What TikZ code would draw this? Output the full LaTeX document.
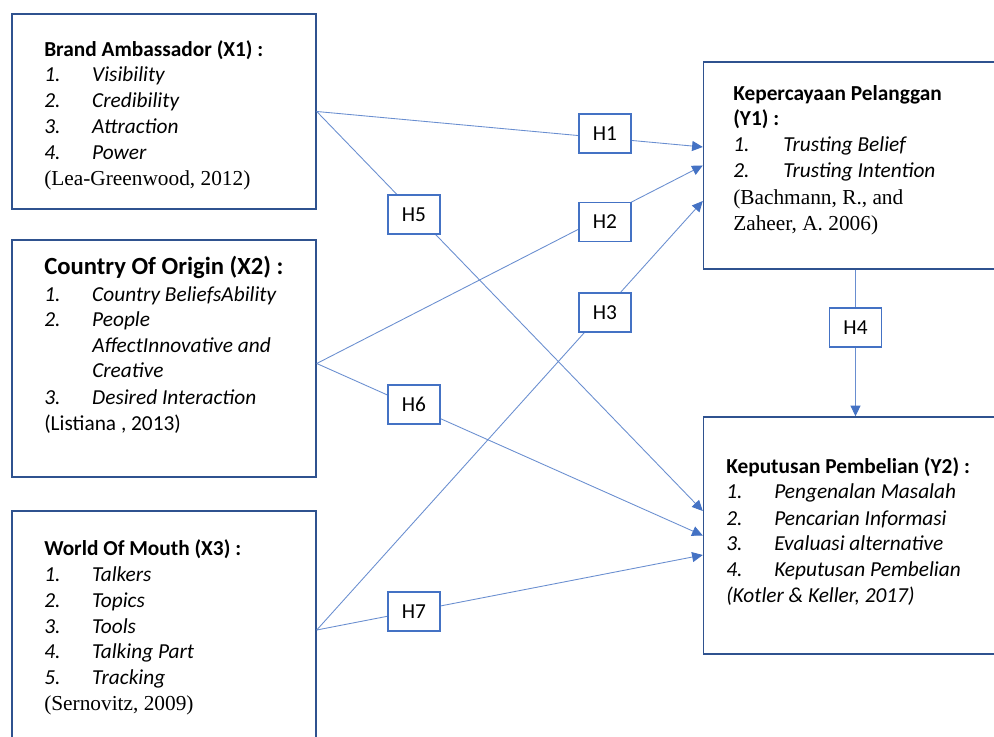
\documentclass[tikz,border=0pt]{standalone}
\usepackage{fontspec}
\setmainfont{Carlito}
\newfontfamily\tnrfont{Liberation Serif}
\usetikzlibrary{arrows.meta,calc}
\definecolor{boxblue}{HTML}{2F528F}
\definecolor{lineblue}{HTML}{4472C4}
\colorlet{connblue}{lineblue!80}
\newcommand\numit[3][36pt]{\makebox[#1][l]{\itshape #2}\textit{#3}}
\begin{document}
\begin{tikzpicture}[x=0.75pt,y=-0.75pt,
  bigbox/.style={draw=boxblue,line width=1.1pt,minimum width=228pt,inner sep=0pt},
  hbox/.style={draw=lineblue,line width=1.1pt,fill=white,minimum width=39pt,minimum height=29.25pt,inner sep=0pt,font=\fontsize{16}{19}\selectfont},
  conn/.style={draw=connblue,line width=0.65pt},
  arr/.style={conn,-{Triangle[length=8pt,width=7.5pt,color=lineblue]}},
  txt/.style={anchor=base west,inner sep=0pt,font=\fontsize{16}{19}\selectfont},
  ttl/.style={txt,font=\fontsize{16}{19}\selectfont\bfseries},
  bigttl/.style={txt,font=\fontsize{18.5}{22}\selectfont\bfseries},
  cite/.style={txt,font=\fontsize{16}{19}\selectfont\tnrfont}]
\useasboundingbox (0,0) rectangle (994,737);
\clip (0,0) rectangle (994,737);
\fill[white] (0,0) rectangle (994,737);

% main boxes
\node[bigbox,minimum height=146.25pt] (x1) at (164,111.5) {};
\node[bigbox,minimum height=177.75pt] (x2) at (164,358.5) {};
\node[bigbox,minimum height=178.5pt] (x3) at (164,630) {};
\node[bigbox,minimum height=155.25pt] (y1) at (855.5,165.5) {};
\node[bigbox,minimum height=177.75pt] (y2) at (855.5,535.5) {};

% connectors
\draw[arr] (x1.east) -- ($(y1.west)+(0,-18.5)$);
\draw[arr] (x1.east) -- ($(y2.west)+(0,-24.5)$);
\draw[arr] ($(x2.east)+(0,5)$) -- (y1.west);
\draw[arr] ($(x2.east)+(0,5)$) -- (y2.west);
\draw[arr] (x3.east) -- ($(y1.west)+(0,35.5)$);
\draw[arr] (x3.east) -- ($(y2.west)+(0,19.5)$);
\draw[arr] (y1.south) -- (y2.north);

% hypothesis labels
\node[hbox] (h1) at (605,133.5) {H1};
\node[hbox] (h2) at (605,222) {H2};
\node[hbox] (h3) at (605,312.5) {H3};
\node[hbox] (h4) at (855.5,327.5) {H4};
\node[hbox] (h5) at (414,214.5) {H5};
\node[hbox] (h6) at (414,404.5) {H6};
\node[hbox] (h7) at (414,611.5) {H7};

% X1 text
\node[ttl] (x1t0) at (44,57) {Brand Ambassador (X1) :};
\node[txt] (x1t1) at (44,82) {\numit{1.}{Visibility}};
\node[txt] (x1t2) at (44,108) {\numit{2.}{Credibility}};
\node[txt] (x1t3) at (44,134) {\numit{3.}{Attraction}};
\node[txt] (x1t4) at (44,160) {\numit{4.}{Power}};
\node[cite] (x1t5) at (44,186) {(Lea-Greenwood, 2012)};

% X2 text
\node[bigttl] (x2t0) at (44,275) {Country Of Origin (X2) :};
\node[txt] (x2t1) at (44,302) {\numit{1.}{Country BeliefsAbility}};
\node[txt] (x2t2) at (44,327) {\numit{2.}{People}};
\node[txt] (x2t3) at (92,352) {\textit{AffectInnovative and}};
\node[txt] (x2t4) at (92,377) {\textit{Creative}};
\node[txt] (x2t5) at (44,404) {\numit{3.}{Desired Interaction}};
\node[txt] (x2t6) at (44,430) {(Listiana , 2013)};

% X3 text
\node[ttl] (x3t0) at (44,555) {World Of Mouth (X3) :};
\node[txt] (x3t1) at (44,581) {\numit{1.}{Talkers}};
\node[txt] (x3t2) at (44,607) {\numit{2.}{Topics}};
\node[txt] (x3t3) at (44,633) {\numit{3.}{Tools}};
\node[txt] (x3t4) at (44,658) {\numit{4.}{Talking Part}};
\node[txt] (x3t5) at (44,684) {\numit{5.}{Tracking}};
\node[cite] (x3t6) at (44,710) {(Sernovitz, 2009)};

% Y1 text
\node[ttl] (y1t0) at (733,101) {Kepercayaan Pelanggan};
\node[ttl] (y1t1) at (733,126) {(Y1) :};
\node[txt] (y1t2) at (733,152) {\numit[37.5pt]{1.}{Trusting Belief}};
\node[txt] (y1t3) at (733,178) {\numit[37.5pt]{2.}{Trusting Intention}};
\node[cite] (y1t4) at (733,205) {(Bachmann, R., and};
\node[cite] (y1t5) at (733,231) {Zaheer, A. 2006)};

% Y2 text
\node[ttl] (y2t0) at (726,473) {Keputusan Pembelian (Y2) :};
\node[txt] (y2t1) at (726,498) {\numit{1.}{Pengenalan Masalah}};
\node[txt] (y2t2) at (726,525) {\numit{2.}{Pencarian Informasi}};
\node[txt] (y2t3) at (726,550) {\numit{3.}{Evaluasi alternative}};
\node[txt] (y2t4) at (726,576) {\numit{4.}{Keputusan Pembelian}};
\node[txt] (y2t5) at (726,602) {\textit{(Kotler \& Keller, 2017)}};
\end{tikzpicture}
\end{document}
